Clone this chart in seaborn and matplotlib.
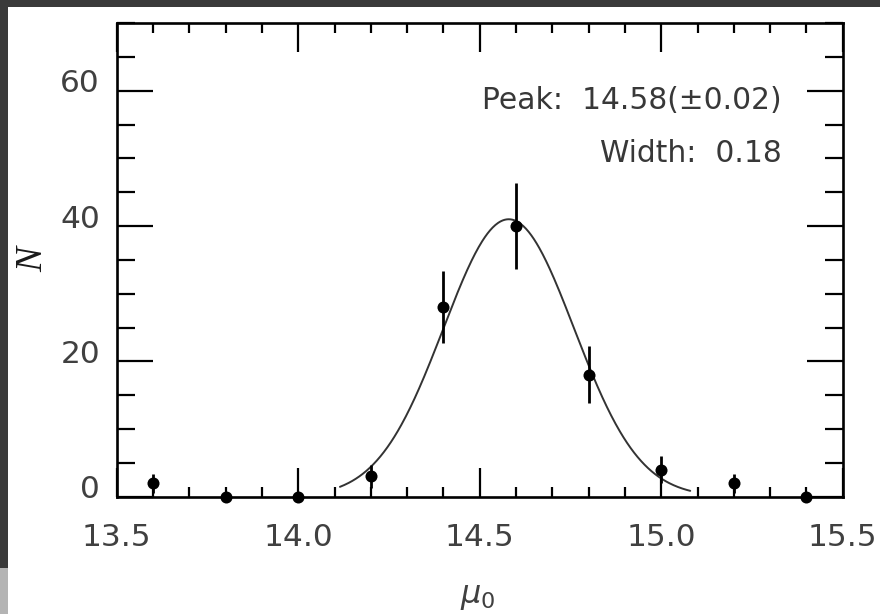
import numpy as np
import pandas as pd
import matplotlib
matplotlib.use("Agg")
import matplotlib.pyplot as plt
import matplotlib.transforms as mtransforms
from matplotlib.patches import Rectangle
from matplotlib.ticker import MultipleLocator
import seaborn as sns

# Binned distance-modulus counts with their uncertainties
mu0_bins = [13.6, 13.8, 14.0, 14.2, 14.4, 14.6, 14.8, 15.0, 15.2, 15.4]
counts = [2, 0, 0, 3, 28, 40, 18, 4, 2, 0]
count_err = [1.4, 0.0, 0.0, 1.7, 5.3, 6.3, 4.2, 2.0, 1.4, 0.0]

# Gaussian fit parameters
peak = 14.58
peak_err = 0.02
width = 0.18
amplitude = 41.0
fit_lo, fit_hi = 14.115, 15.08

x_ticks = [13.5, 14.0, 14.5, 15.0, 15.5]
x_tick_labels = ["13.5", "14.0", "14.5", "15.0", "15.5"]
y_ticks = [0, 20, 40, 60]

sns.set_theme(style="ticks")
plt.rcParams["font.family"] = ["DejaVu Sans"]
plt.rcParams["mathtext.fontset"] = "dejavusans"

W, H = 880, 614
fig = plt.figure(figsize=(W / 100, H / 100), dpi=100)
fig.patch.set_facecolor("white")

left, right, top, bottom = 116.7, 842.7, 23.0, 496.7
ax = fig.add_axes([left / W, 1 - bottom / H, (right - left) / W, (bottom - top) / H])
ax.set_facecolor("white")

# fitted Gaussian
xs = np.linspace(fit_lo, fit_hi, 400)
fit = pd.DataFrame({"mu0": xs,
                    "N": amplitude * np.exp(-0.5 * ((xs - peak) / width) ** 2)})
sns.lineplot(data=fit, x="mu0", y="N", ax=ax, color="#333333", lw=1.4, zorder=2)

# data points with error bars
df = pd.DataFrame({"mu0": mu0_bins, "N": counts, "err": count_err})
ax.errorbar(df["mu0"], df["N"], yerr=df["err"], fmt="none", ecolor="black",
            elinewidth=2.0, capsize=0, zorder=3, clip_on=False)
sns.scatterplot(data=df, x="mu0", y="N", ax=ax, color="black", s=75,
                edgecolor="black", linewidth=0, zorder=4, clip_on=False)

ax.set_xlim(13.5, 15.5)
ax.set_ylim(0, 70)
ax.set_xticks(x_ticks)
ax.set_xticklabels(x_tick_labels)
ax.set_yticks(y_ticks)
ax.xaxis.set_minor_locator(MultipleLocator(0.1))
ax.yaxis.set_minor_locator(MultipleLocator(5))
ax.set_xlabel("")
ax.set_ylabel("")

for s in ax.spines.values():
    s.set_visible(True)
    s.set_linewidth(1.9)
    s.set_color("black")

ax.tick_params(which="both", direction="in", top=True, right=True,
               color="black", width=1.6)
ax.tick_params(axis="x", which="major", length=21, pad=18.7,
               labelsize=22.5, labelcolor="#404040")
ax.tick_params(axis="x", which="minor", length=7.5)
ax.tick_params(axis="y", which="major", length=26, pad=12,
               labelsize=22.5, labelcolor="#404040")
ax.tick_params(axis="y", which="minor", length=13)

# lift the y tick labels slightly above their ticks
lift = mtransforms.ScaledTranslation(0, 10 / 100, fig.dpi_scale_trans)
for lab in ax.get_yticklabels():
    lab.set_transform(lab.get_transform() + lift)

# axis labels
fig.text(33 / W, 1 - 260 / H, "N", rotation=90, ha="center", va="center",
         fontsize=27, family="Liberation Serif", style="italic", color="#1a1a1a")
fig.text(477.5 / W, 1 - 596 / H, r"$\mu_{\mathregular{0}}$", ha="center", va="center",
         fontsize=23, color="#404040")

# fit annotations
tx = (782 - left) / (right - left)
ax.text(tx, (bottom - 109) / (bottom - top),
        f"Peak:  {peak:.2f}(\u00b1{peak_err:.2f})",
        transform=ax.transAxes, ha="right", va="baseline",
        fontsize=21.4, color="#383838")
ax.text(tx, (bottom - 161.7) / (bottom - top), f"Width:  {width:.2f}",
        transform=ax.transAxes, ha="right", va="baseline",
        fontsize=21.4, color="#383838")

# dark frame strips along the top and left edges
fig.patches.append(Rectangle((0, 1 - 7 / H), 1, 7 / H, transform=fig.transFigure,
                             facecolor="#3a3a3a", edgecolor="none", zorder=10))
fig.patches.append(Rectangle((0, 46 / H), 8 / W, 1 - 46 / H, transform=fig.transFigure,
                             facecolor="#3a3a3a", edgecolor="none", zorder=10))
fig.patches.append(Rectangle((0, 0), 8 / W, 46 / H, transform=fig.transFigure,
                             facecolor="#b4b4b4", edgecolor="none", zorder=10))

fig.savefig("out.png", dpi=100, facecolor="white")
